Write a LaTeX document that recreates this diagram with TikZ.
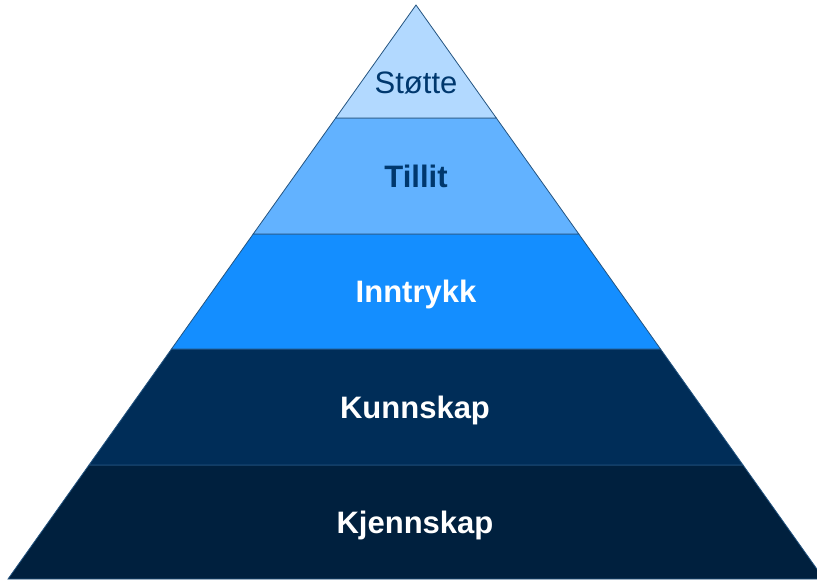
\documentclass[tikz,border=0pt]{standalone}
\usepackage{fontspec}
\setmainfont{Liberation Sans}
\usepackage{tikz}
\definecolor{stottefill}{RGB}{178,217,255}
\definecolor{tillitfill}{RGB}{98,178,255}
\definecolor{inntrykkfill}{RGB}{20,142,255}
\definecolor{kunnskapfill}{RGB}{0,45,88}
\definecolor{kjennskapfill}{RGB}{0,32,62}
\definecolor{edgeblue}{RGB}{36,84,128}
\definecolor{textblue}{RGB}{0,56,110}
\tikzset{
  layer/.style = {draw = edgeblue, line width = 0.8pt, line join = miter},
  label/.style = {font = \fontsize{31}{37}\selectfont, inner sep = 0pt, anchor = base},
  boldlabel/.style = {label, font = \fontsize{31}{37}\selectfont\bfseries}
}

\begin{document}
\begin{tikzpicture}[x = 1pt, y = -1pt]
\useasboundingbox (0, 0) rectangle (817, 579);
\clip (0, 0) rectangle (817, 579);
% bottom layer
\filldraw[layer, fill = kjennskapfill] (8, 579) -- (89, 465) -- (743, 465)
  -- (824, 579) -- cycle;
% fourth layer
\filldraw[layer, fill = kunnskapfill] (89, 465) -- (171.5, 349) -- (660.5, 349)
  -- (743, 465) -- cycle;
% middle layer
\filldraw[layer, fill = inntrykkfill] (171.5, 349) -- (253.2, 234) -- (578.8, 234)
  -- (660.5, 349) -- cycle;
% second layer
\filldraw[layer, fill = tillitfill] (253.2, 234) -- (335.7, 118) -- (496.3, 118)
  -- (578.8, 234) -- cycle;
% top
\filldraw[layer, fill = stottefill] (335.7, 118) -- (416, 5) -- (496.3, 118) -- cycle;
% labels
 \node[label, text = textblue] (stotte) at (416, 93) {Støtte};
 \node[boldlabel, text = textblue] (tillit) at (416, 187) {Tillit};
 \node[boldlabel, text = white] (inntrykk) at (416, 302) {Inntrykk};
 \node[boldlabel, text = white] (kunnskap) at (415, 418) {Kunnskap};
 \node[boldlabel, text = white] (kjennskap) at (415, 533) {Kjennskap};
\end{tikzpicture}
\end{document}
